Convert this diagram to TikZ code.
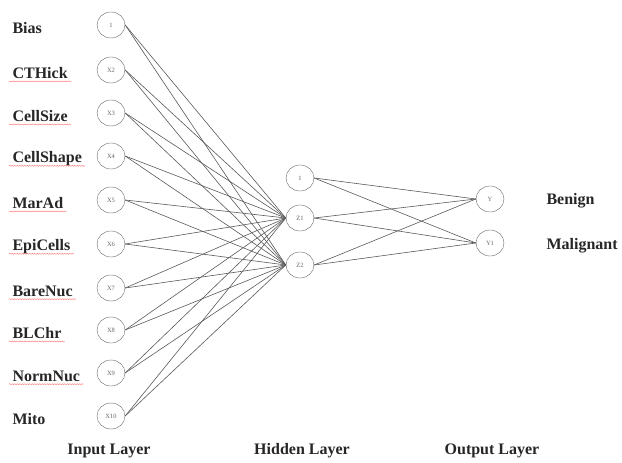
\documentclass[tikz,border=0pt]{standalone}
\usepackage{fontspec}
\setmainfont{Liberation Serif}
\usetikzlibrary{shapes.geometric,decorations.pathmorphing}

\begin{document}
\begin{tikzpicture}[
  x=1pt, y=-1pt,
  every node/.style={font=\fontsize{16}{19}\selectfont\bfseries, text=black!85},
  unit/.style={draw=black!60, ellipse, minimum width=28pt, minimum height=26pt,
               inner sep=0pt, font=\fontsize{6.5}{7}\selectfont, text=black!60},
  link/.style={black!65, line width=0.6pt},
  typo/.style={red!55, line width=0.4pt, decorate,
               decoration={snake, amplitude=0.5pt, segment length=2.5pt}},
]
\useasboundingbox (0,0) rectangle (622,463);

% Input layer
\foreach \lab/\txt/\yy [count=\i] in {1/Bias/25, X2/CTHick/70, X3/CellSize/113,
    X4/CellShape/156, X5/MarAd/200, X6/EpiCells/244, X7/BareNuc/288,
    X8/BLChr/330, X9/NormNuc/373, X10/Mito/416} {
  \node[unit] (x\i) at (111, \yy) {\lab};
  \node[anchor=west] (lx\i) at (9, \yy+3) {\txt};
}

% Spelling marks under the labels
\foreach \i in {2,...,9}
  \draw[typo] ([yshift=-3pt]lx\i.base west) -- ([yshift=-3pt]lx\i.base east);

% Hidden layer
\node[unit] (h0) at (300, 178) {1};
\node[unit] (h1) at (300, 218) {Z1};
\node[unit] (h2) at (300, 265) {Z2};

% Output layer
\node[unit] (o1) at (490, 199) {Y};
\node[unit] (o2) at (490, 243) {Y1};
\node[anchor=west] (benign) at (543, 201) {Benign};
\node[anchor=west] (malig) at (543, 246) {Malignant};

% Connections
\foreach \i in {1,...,10}
  \foreach \j in {1,2}
    \draw[link] (x\i.east) -- (h\j.west);
\foreach \i in {0,1,2}
  \foreach \j in {1,2}
    \draw[link] (h\i.east) -- (o\j.west);

% Layer captions
\node (inlay) at (109, 451) {Input Layer};
\node (hidlay) at (302, 451) {Hidden Layer};
\node (outlay) at (492, 451) {Output Layer};
\end{tikzpicture}
\end{document}
